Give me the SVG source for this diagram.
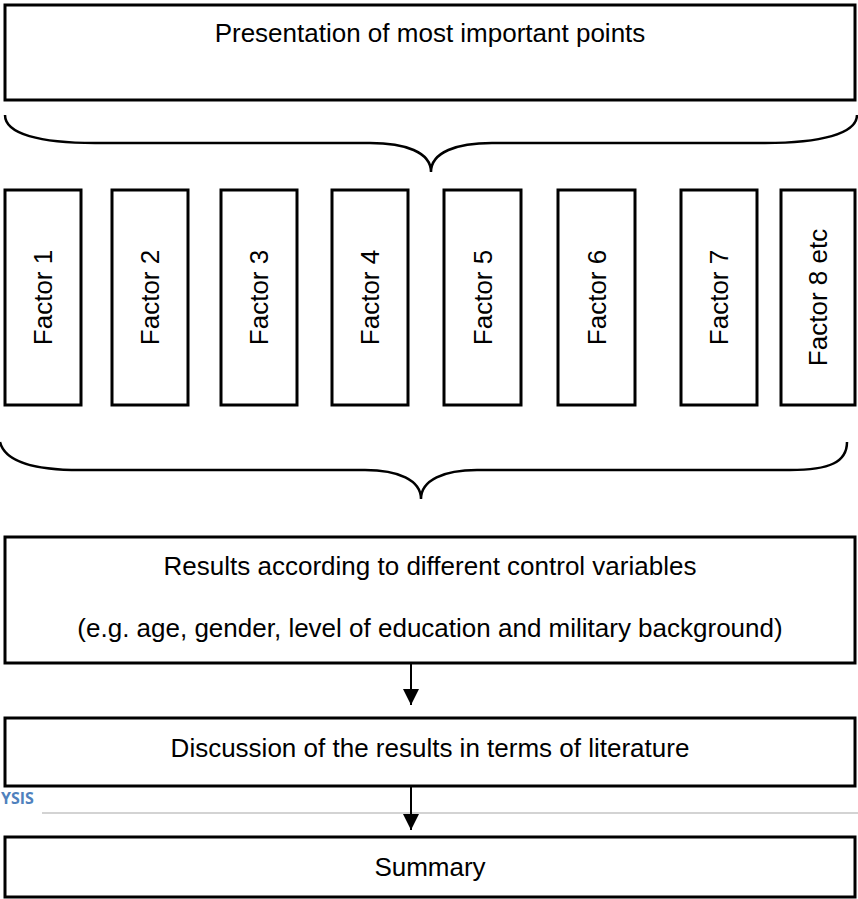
<svg xmlns="http://www.w3.org/2000/svg" width="858" height="899" viewBox="0 0 858 899">
<style>
.box{fill:#fff;stroke:#000;stroke-width:3}
.t{font-family:"Liberation Sans",Arial,sans-serif;font-size:26px;fill:#000;text-anchor:middle}
.brace{fill:none;stroke:#000;stroke-width:2.5}
.conn{stroke:#000;stroke-width:2;fill:none}
</style>
<defs>
<marker id="ah" markerWidth="16" markerHeight="16" viewBox="0 0 16 16" refX="16" refY="8" orient="auto" markerUnits="userSpaceOnUse">
<path d="M0,0 L16,8 L0,16 Z" fill="#000"/>
</marker>
</defs>
<rect width="858" height="899" fill="#fff"/>
<g id="top">
<rect class="box" x="5" y="5" width="850" height="95"/>
<text class="t" x="430" y="42">Presentation of most important points</text>
</g>
<g id="braces">
<path class="brace" d="M5,115 C5,134 40,143 95,143 L370,143 C405,143 431,152 431,172 C431,152 457,143 492,143 L765,143 C820,143 857,134 857,115"/>
<path class="brace" d="M0,442 C5,462 35,470 80,470 L365,470 C398,470 421,480 421,499 C421,480 444,470 477,470 L790,470 C830,470 847,462 847,442"/>
</g>
<g id="f1"><rect class="box" x="5" y="190" width="76" height="215"/><text class="t" transform="translate(52,297.5) rotate(-90)">Factor 1</text></g>
<g id="f2"><rect class="box" x="112" y="190" width="76" height="215"/><text class="t" transform="translate(159,297.5) rotate(-90)">Factor 2</text></g>
<g id="f3"><rect class="box" x="221" y="190" width="76" height="215"/><text class="t" transform="translate(268,297.5) rotate(-90)">Factor 3</text></g>
<g id="f4"><rect class="box" x="332" y="190" width="76" height="215"/><text class="t" transform="translate(379,297.5) rotate(-90)">Factor 4</text></g>
<g id="f5"><rect class="box" x="444" y="190" width="77" height="215"/><text class="t" transform="translate(491.5,297.5) rotate(-90)">Factor 5</text></g>
<g id="f6"><rect class="box" x="558" y="190" width="77" height="215"/><text class="t" transform="translate(605.5,297.5) rotate(-90)">Factor 6</text></g>
<g id="f7"><rect class="box" x="681" y="190" width="76" height="215"/><text class="t" transform="translate(728,297.5) rotate(-90)">Factor 7</text></g>
<g id="f8"><rect class="box" x="781" y="190" width="74" height="215"/><text class="t" transform="translate(827,297.5) rotate(-90)">Factor 8 etc</text></g>
<g id="results">
<rect class="box" x="5" y="537" width="850" height="126"/>
<text class="t" x="430" y="575">Results according to different control variables</text>
<text class="t" x="430" y="637">(e.g. age, gender, level of education and military background)</text>
</g>
<g id="discussion">
<rect class="box" x="5" y="718" width="850" height="68"/>
<text class="t" x="430" y="757">Discussion of the results in terms of literature</text>
</g>
<g id="header">
<text x="1" y="804" font-family="'Open Sans','Liberation Sans',sans-serif" font-weight="bold" font-size="16" fill="#4F81BD">YSIS</text>
<line x1="42" y1="813" x2="858" y2="813" stroke="#d3d3d3" stroke-width="2"/>
</g>
<g id="summary">
<rect class="box" x="5" y="837" width="850" height="60"/>
<text class="t" x="430" y="876">Summary</text>
</g>
<g id="connectors">
<line class="conn" x1="411" y1="663" x2="411" y2="705" marker-end="url(#ah)"/>
<line class="conn" x1="411" y1="786" x2="411" y2="830" marker-end="url(#ah)"/>
</g>
</svg>
